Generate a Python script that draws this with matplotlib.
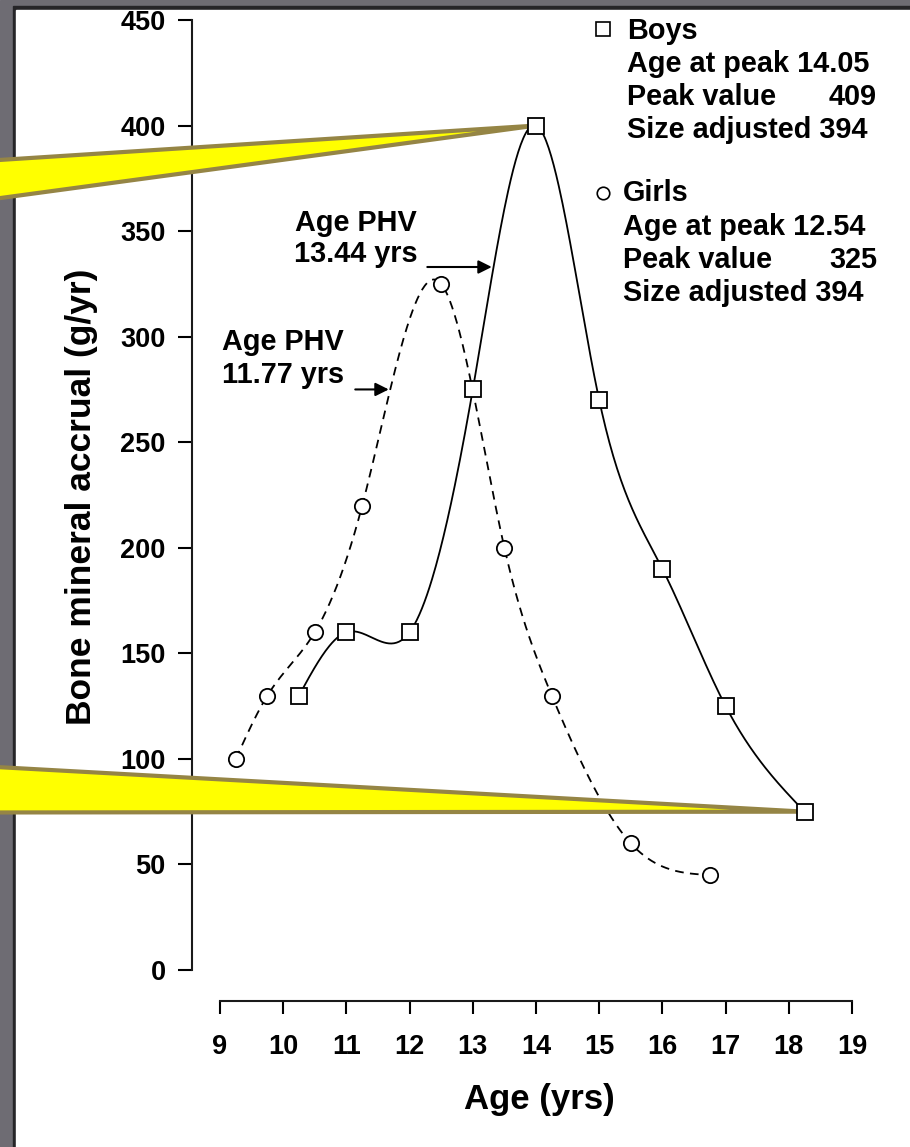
import numpy as np
import matplotlib
matplotlib.use('Agg')
import matplotlib.pyplot as plt
from matplotlib.patches import Polygon, Rectangle

plt.rcParams['font.family'] = ['Liberation Sans', 'DejaVu Sans']
plt.rcParams['font.weight'] = 'bold'

# data
boys_age = [10.25, 11, 12, 13, 14, 15, 16, 17, 18.25]
boys_bma = [130, 160, 160, 275, 400, 270, 190, 125, 75]
girls_age = [9.25, 9.75, 10.5, 11.25, 12.5, 13.5, 14.25, 15.5, 16.75]
girls_bma = [100, 130, 160, 220, 325, 200, 130, 60, 45]

x_ticks = list(range(9, 20))
y_ticks = list(range(0, 451, 50))

boys_info = ['Age at peak 14.05', 'Peak value', 'Size adjusted 394']
boys_peak = '409'
girls_info = ['Age at peak 12.54', 'Peak value', 'Size adjusted 394']
girls_peak = '325'


def spline_curve(xs, ys, n=400):
    # natural cubic spline through the points, like the smoothed lines in the original
    xs = np.asarray(xs, float)
    ys = np.asarray(ys, float)
    k = len(xs)
    h = np.diff(xs)
    A = np.zeros((k, k))
    r = np.zeros(k)
    A[0, 0] = A[-1, -1] = 1
    for i in range(1, k - 1):
        A[i, i - 1] = h[i - 1]
        A[i, i] = 2 * (h[i - 1] + h[i])
        A[i, i + 1] = h[i]
        r[i] = 6 * ((ys[i + 1] - ys[i]) / h[i] - (ys[i] - ys[i - 1]) / h[i - 1])
    M = np.linalg.solve(A, r)
    xx = np.linspace(xs[0], xs[-1], n)
    idx = np.clip(np.searchsorted(xs, xx) - 1, 0, k - 2)
    x0, x1 = xs[idx], xs[idx + 1]
    hh = x1 - x0
    a = (x1 - xx) / hh
    b = (xx - x0) / hh
    yy = a * ys[idx] + b * ys[idx + 1] + ((a**3 - a) * M[idx] + (b**3 - b) * M[idx + 1]) * hh**2 / 6
    return xx, yy


W, H = 910, 1147
fig = plt.figure(figsize=(W / 100, H / 100), dpi=100)

# background frame (gray slide edge, dark border, white panel)
bg = fig.add_axes([0, 0, 1, 1], zorder=-1)
bg.set_xlim(0, W)
bg.set_ylim(H, 0)
bg.axis('off')
bg.add_patch(Rectangle((0, 0), W, H, color='#6e6c73'))
bg.add_patch(Rectangle((13, 6), W, H, color='#262528'))
bg.add_patch(Rectangle((16, 10), W, H, color='white'))

# pixel overlay used for legend block and callouts
pix = fig.add_axes([0, 0, 1, 1], zorder=5)
pix.set_xlim(0, W)
pix.set_ylim(H, 0)
pix.axis('off')
pix.patch.set_alpha(0)

ax = fig.add_axes([220 / W, 1 - 970 / H, 632 / W, 950 / H])
ax.patch.set_alpha(0)
ax.set_xlim(9, 19)
ax.set_ylim(0, 450)

for s in ['top', 'right']:
    ax.spines[s].set_visible(False)
ax.spines['left'].set_position(('outward', 20))
ax.spines['bottom'].set_position(('outward', 22.5))
ax.spines['left'].set_bounds(0, 450)
ax.spines['bottom'].set_bounds(9, 19)
for s in ['left', 'bottom']:
    ax.spines[s].set_linewidth(1.5)
    ax.spines[s].set_color('#1a1a1a')

ax.set_xticks(x_ticks)
ax.set_yticks(y_ticks)
ax.tick_params(axis='y', direction='out', length=10, width=1.5, pad=9, labelsize=19.5)
ax.tick_params(axis='x', direction='out', length=9.5, width=1.5, pad=14, labelsize=19.5)
for lab in ax.get_xticklabels() + ax.get_yticklabels():
    lab.set_fontweight('bold')

# smoothed curves
bx, by = spline_curve(boys_age, boys_bma)
gx, gy = spline_curve(girls_age, girls_bma)
ax.plot(bx, by, color='black', lw=1.3, zorder=2, clip_on=False)
ax.plot(gx, gy, color='black', lw=1.3, ls=(0, (4.8, 3.5)), zorder=2, clip_on=False)

ax.plot(boys_age, boys_bma, ls='none', marker='s', ms=11.5, mfc='white', mec='black',
        mew=1.3, zorder=3, clip_on=False)
ax.plot(girls_age, girls_bma, ls='none', marker='o', ms=11, mfc='white', mec='black',
        mew=1.3, zorder=3, clip_on=False)

# PHV annotations
fs = 20.8
ax.text(11.15, 354, 'Age PHV', ha='center', va='center', fontsize=fs, fontweight='bold')
ax.text(11.15, 339, '13.44 yrs', ha='center', va='center', fontsize=fs, fontweight='bold')
ax.annotate('', xy=(13.30, 333), xytext=(12.28, 333),
            arrowprops=dict(arrowstyle='-|>', lw=1.5, color='black', mutation_scale=20,
                            shrinkA=0, shrinkB=0))
ax.text(10.0, 297.5, 'Age PHV', ha='center', va='center', fontsize=fs, fontweight='bold')
ax.text(10.0, 282, '11.77 yrs', ha='center', va='center', fontsize=fs, fontweight='bold')
ax.annotate('', xy=(11.67, 275), xytext=(11.14, 275),
            arrowprops=dict(arrowstyle='-|>', lw=1.5, color='black', mutation_scale=20,
                            shrinkA=0, shrinkB=0))

# axis titles
fig.text(539 / W, 1 - 1100 / H, 'Age (yrs)', ha='center', va='center', fontsize=25, fontweight='bold')
fig.text(82 / W, 1 - 497 / H, 'Bone mineral accrual (g/yr)', ha='center', va='center',
         rotation=90, fontsize=25.5, fontweight='bold')

# legend block
pix.plot([603], [29], marker='s', ms=9.5, mfc='white', mec='black', mew=1.2, ls='none')
pix.text(627, 31, 'Boys', ha='left', va='center', fontsize=fs)
for i, t in enumerate(boys_info):
    pix.text(627, 64 + 33 * i, t, ha='left', va='center', fontsize=fs)
pix.text(877, 97, boys_peak, ha='right', va='center', fontsize=fs)

pix.plot([603], [193], marker='o', ms=9, mfc='white', mec='black', mew=1.2, ls='none')
pix.text(623, 193, 'Girls', ha='left', va='center', fontsize=fs)
for i, t in enumerate(girls_info):
    pix.text(623, 227 + 33 * i, t, ha='left', va='center', fontsize=fs)
pix.text(877, 260, girls_peak, ha='right', va='center', fontsize=fs)

# yellow callout wedges pointing at boys peak and last boys point
to_pix = pix.transData.inverted()
apex1 = to_pix.transform(ax.transData.transform((boys_age[4], boys_bma[4])))
apex2 = to_pix.transform(ax.transData.transform((boys_age[-1], boys_bma[-1])))
w1 = Polygon([(-40, 162.5), tuple(apex1), (-40, 203.5)], closed=True, facecolor='#ffff00',
             edgecolor='#958545', lw=3, joinstyle='miter', transform=pix.transData,
             zorder=2.8, clip_on=False)
w2 = Polygon([(-40, 765), tuple(apex2), (-40, 812.5)], closed=True, facecolor='#ffff00',
             edgecolor='#958545', lw=3, joinstyle='miter', transform=pix.transData,
             zorder=2.8, clip_on=False)
ax.add_patch(w1)
ax.add_patch(w2)

fig.savefig('out.png', dpi=100)
